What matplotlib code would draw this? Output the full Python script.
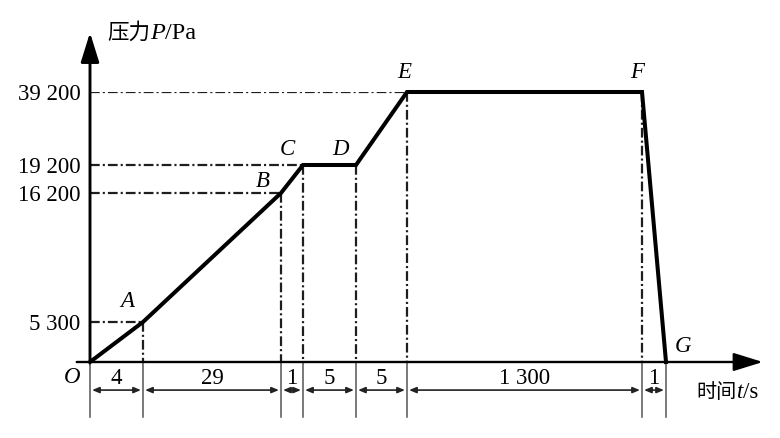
import numpy as np
import matplotlib.pyplot as plt
from matplotlib.offsetbox import TextArea, HPacker, AnnotationBbox

plt.rcParams['font.family'] = ['Liberation Serif', 'Noto Sans CJK SC']
plt.rcParams['lines.scale_dashes'] = False

# data
point_names = ['O', 'A', 'B', 'C', 'D', 'E', 'F', 'G']
durations = [4, 29, 1, 5, 5, 1300, 1]          # s, per stage
pressures = [0, 5300, 16200, 19200, 19200, 39200, 39200, 0]   # Pa
pressure_ticks = [5300, 16200, 19200, 39200]
pressure_labels = ['5 300', '16 200', '19 200', '39 200']
duration_labels = ['4', '29', '1', '5', '5', '1 300', '1']

times = np.concatenate([[0], np.cumsum(durations)])

# the diagram is not to scale: screen offsets (px) of each knot
x_px = [0, 53, 191, 213, 266, 317, 552, 576]
y_levels = [0, 5300, 16200, 19200, 39200]
y_px = [0, 40, 169, 197, 270]


def piecewise(knots, px):
    knots = np.asarray(knots, float)
    px = np.asarray(px, float)
    s0 = (px[1] - px[0]) / (knots[1] - knots[0])
    s1 = (px[-1] - px[-2]) / (knots[-1] - knots[-2])

    def fwd(v):
        v = np.asarray(v, float)
        out = np.interp(v, knots, px)
        out = np.where(v < knots[0], px[0] + (v - knots[0]) * s0, out)
        out = np.where(v > knots[-1], px[-1] + (v - knots[-1]) * s1, out)
        return out

    def inv(u):
        u = np.asarray(u, float)
        out = np.interp(u, px, knots)
        out = np.where(u < px[0], knots[0] + (u - px[0]) / s0, out)
        out = np.where(u > px[-1], knots[-1] + (u - px[-1]) / s1, out)
        return out

    return fwd, inv


xf, xi = piecewise(times, x_px)
yf, yi = piecewise(y_levels, y_px)

fig = plt.figure(figsize=(7.8, 4.38), dpi=100)
ax = fig.add_axes([90 / 780, 76 / 438, 576 / 780, 270 / 438])
ax.set_xscale('function', functions=(xf, xi))
ax.set_yscale('function', functions=(yf, yi))
ax.set_xlim(0, times[-1])
ax.set_ylim(0, 39200)
for s in ax.spines.values():
    s.set_visible(False)
ax.set_xticks([])
ax.set_yticks(pressure_ticks, pressure_labels)
ax.tick_params(axis='y', length=0, pad=7, labelsize=16.5)
ax.patch.set_alpha(0)

xt = ax.get_xaxis_transform()
dash = (0, (7, 2.2, 1.5, 2.2))
gcol = '#1e1e1e'
y_bottom = -0.204
y_dim = -0.104
fs = 16.5

# guide lines
for i in [1, 2, 3, 5]:
    ax.plot([0, times[i]], [pressures[i]] * 2, color=gcol, lw=1.6, ls=dash)
for i in range(1, 7):
    ax.plot([times[i]] * 2, [pressures[i], 0], color=gcol, lw=1.6, ls=dash)
for t in times:
    ax.plot([t, t], [0, y_bottom], transform=xt, color='#555555', lw=1.1,
            clip_on=False)

# axes with arrows
ax.annotate('', xy=(0, 1.22), xycoords=('data', 'axes fraction'),
            xytext=(0, 0), textcoords='data',
            arrowprops=dict(arrowstyle='-|>,head_length=0.9,head_width=0.28',
                            mutation_scale=20, lw=2.1, color='k',
                            shrinkA=0, shrinkB=0))
ax.annotate('', xy=(1.168, 0), xycoords=('axes fraction', 'data'),
            xytext=(-0.023, 0), textcoords=('axes fraction', 'data'),
            arrowprops=dict(arrowstyle='-|>,head_length=0.9,head_width=0.28',
                            mutation_scale=20, lw=1.7, color='k',
                            shrinkA=0, shrinkB=0))

# pressure curve
ax.plot(times, pressures, color='k', lw=2.9, solid_joinstyle='miter',
        clip_on=False, zorder=5)

# dimension line with stage durations
for i, lab in enumerate(duration_labels):
    ax.annotate('', xy=(times[i], y_dim), xycoords=xt,
                xytext=(times[i + 1], y_dim), textcoords=xt,
                arrowprops=dict(arrowstyle='<|-|>,head_length=0.6,head_width=0.25',
                                mutation_scale=7, lw=1.2, color='#222222',
                                shrinkA=1.5, shrinkB=1.5))
    mid = xi((xf(times[i]) + xf(times[i + 1])) / 2)
    ax.text(float(mid), -0.06, lab, transform=xt, ha='center', va='center',
            fontsize=fs)

# point names
offsets = [(-13, -11.5), (-11.5, 14.5), (-13, 8), (-11.5, 11), (-11, 11),
           (-2, 14), (-3.5, 14), (12, 11.5)]
for name, t, p, off in zip(point_names, times, pressures, offsets):
    ax.annotate(name, xy=(t, p), xytext=off, textcoords='offset points',
                ha='center', va='center', fontsize=fs, fontstyle='italic')


def axis_title(parts, xy, align):
    boxes = [TextArea(s, textprops=dict(fontsize=size, fontstyle=st, family=fam))
             for s, size, st, fam in parts]
    pack = HPacker(children=boxes, align='baseline', pad=0, sep=0)
    ab = AnnotationBbox(pack, xy, xycoords='axes fraction', frameon=False,
                        box_alignment=align, annotation_clip=False)
    ax.add_artist(ab)


cjk = ['Noto Sans CJK SC']
serif = ['Liberation Serif']
axis_title([('压力', 15.5, 'normal', cjk), ('P', 17.5, 'italic', serif),
            ('/Pa', 17.5, 'normal', serif)], (0.03, 1.22), (0, 0.5))
axis_title([('时间', 14.5, 'normal', cjk), ('t', fs, 'italic', serif),
            ('/s', fs, 'normal', serif)], (1.053, -0.113), (0, 0.5))

fig.savefig('out.png', dpi=100)
